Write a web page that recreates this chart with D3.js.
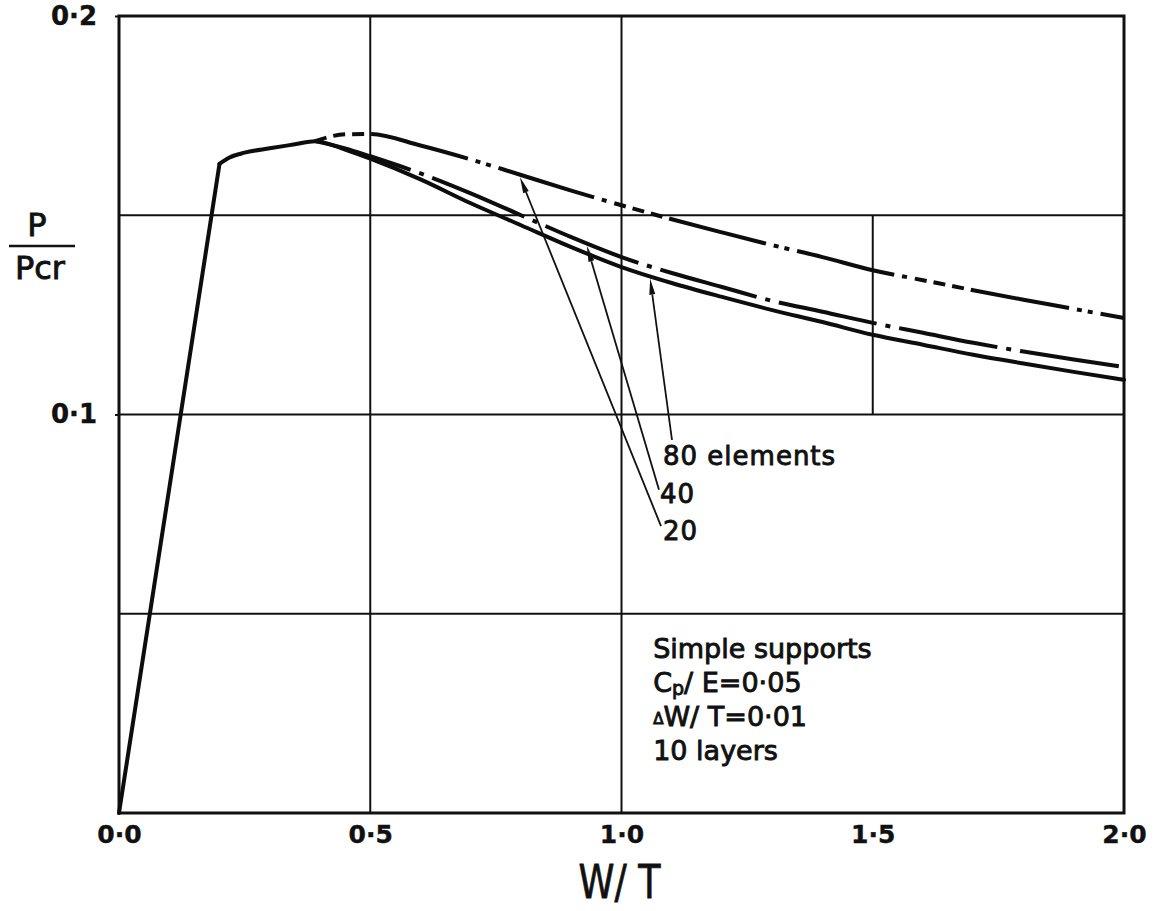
<!DOCTYPE html>
<html><head><meta charset="utf-8">
<script src="https://cdn.jsdelivr.net/npm/d3@7"></script>
<style>
html,body{margin:0;background:#fff;}
svg{display:block;}
text{font-family:"DejaVu Sans",sans-serif;fill:#111;}
</style></head><body>
<svg id="chart" width="1159" height="911"></svg>
<script>
// Axis ticks and labels
const xTicks = [0, 0.5, 1.0, 1.5, 2.0];
const xTickLabels = ["0·0", "0·5", "1·0", "1·5", "2·0"];
const yTicks = [0.1, 0.2];
const yTickLabels = ["0·1", "0·2"];

// Grid
const gridY = [0.05, 0.1, 0.15];
const gridX = [0.5, 1.0];
const partialGridX = [1.5];
const partialGridSpan = [0.1, 0.15];

// Common elastic rise and plateau up to the branching point
const riseX = [0, 0.2];
const riseY = [0, 0.1629];
const plateauX = [0.2, 0.22, 0.25, 0.3, 0.35];
const plateauY = [0.1629, 0.1645, 0.1657, 0.1668, 0.1678];

// Post-buckling branches, by number of elements
const branchX = [0.39, 0.45, 0.5, 0.6, 0.7, 0.8, 0.9, 1.0, 1.1, 1.2, 1.3, 1.4, 1.5, 1.6, 1.7, 1.8, 1.9, 2.0];
const y20 = [0.1686, 0.1703, 0.1704, 0.1675, 0.1640, 0.1601, 0.1562, 0.1525, 0.1490, 0.1457, 0.1425, 0.1395, 0.1362, 0.1337, 0.1312, 0.1288, 0.1265, 0.1242];
const y40 = [0.1686, 0.1668, 0.1648, 0.1605, 0.1555, 0.1500, 0.1445, 0.1395, 0.1355, 0.1320, 0.1285, 0.1258, 0.1230, 0.1205, 0.1180, 0.1158, 0.1138, 0.1119];
const y80 = [0.1686, 0.1665, 0.1642, 0.1590, 0.1530, 0.1475, 0.1420, 0.1370, 0.1330, 0.1295, 0.1262, 0.1232, 0.1200, 0.1175, 0.1150, 0.1128, 0.1107, 0.1087];

// Curve labels with leader arrows
const labelText = ["20", "40", "80 elements"];
const labelX = [1.0826, 1.0766, 1.0826];
const labelY = [0.0685, 0.0778, 0.0873];
const arrowTailX = [1.0786, 1.0746, 1.1005];
const arrowTailY = [0.0720, 0.0811, 0.0936];
const arrowTipX = [0.798, 0.931, 1.057];

// Parameter note
const noteLines = ["Simple supports", "Cp/ E=0·05", "ΔW/ T=0·01", "10 layers"];
const noteX = 1.063;
const noteY = [0.0389, 0.0304, 0.0218, 0.0133];

const svg = d3.select("#chart");
const x = d3.scaleLinear().domain([0, 2]).range([119, 1124]);
const y = d3.scaleLinear().domain([0, 0.2]).range([813, 16]);

// grid lines
const grid = svg.append("g").attr("stroke", "#111").attr("stroke-width", 2);
grid.selectAll("line.h").data(gridY).join("line").attr("class", "h")
  .attr("x1", x(0)).attr("x2", x(2)).attr("y1", d => y(d)).attr("y2", d => y(d));
grid.selectAll("line.v").data(gridX).join("line").attr("class", "v")
  .attr("x1", d => x(d)).attr("x2", d => x(d)).attr("y1", y(0)).attr("y2", y(0.2));
grid.selectAll("line.p").data(partialGridX).join("line").attr("class", "p")
  .attr("x1", d => x(d)).attr("x2", d => x(d))
  .attr("y1", y(partialGridSpan[0])).attr("y2", y(partialGridSpan[1]));

// frame
svg.append("rect")
  .attr("x", x(0)).attr("y", y(0.2))
  .attr("width", x(2) - x(0)).attr("height", y(0) - y(0.2))
  .attr("fill", "none").attr("stroke", "#111").attr("stroke-width", 3);

// axes
const xAxis = d3.axisBottom(x).tickValues(xTicks)
  .tickFormat((d, i) => xTickLabels[i]).tickSize(0).tickPadding(12);
const gx = svg.append("g").attr("transform", `translate(0,${y(0)})`).call(xAxis);
gx.select(".domain").remove();
gx.selectAll("text").attr("font-size", 25).attr("font-weight", "bold")
  .attr("font-family", "DejaVu Sans").attr("fill", "#111")
  .attr("stroke", "#111").attr("stroke-width", 0.4);

const yAxis = d3.axisLeft(y).tickValues(yTicks)
  .tickFormat((d, i) => yTickLabels[i]).tickSize(4).tickPadding(18);
const gy = svg.append("g").attr("transform", `translate(${x(0)},0)`).call(yAxis);
gy.select(".domain").remove();
gy.selectAll("line").attr("stroke", "#111").attr("stroke-width", 2);
gy.selectAll("text").attr("font-size", 26).attr("font-weight", "bold")
  .attr("font-family", "DejaVu Sans").attr("fill", "#111")
  .attr("stroke", "#111").attr("stroke-width", 0.4);

// axis titles
svg.append("text").attr("x", x(1.0) - 2).attr("y", 898)
  .attr("text-anchor", "middle").attr("font-size", 46)
  .attr("textLength", 82).attr("lengthAdjust", "spacingAndGlyphs")
  .attr("stroke", "#111").attr("stroke-width", 0.8)
  .text("W/ T");
const yt = svg.append("g");
yt.append("text").attr("x", 37).attr("y", 236).attr("text-anchor", "middle")
  .attr("font-size", 32).attr("stroke", "#111").attr("stroke-width", 0.9).text("P");
yt.append("line").attr("x1", 9).attr("x2", 75).attr("y1", 246).attr("y2", 246)
  .attr("stroke", "#111").attr("stroke-width", 2.5);
yt.append("text").attr("x", 40).attr("y", 279).attr("text-anchor", "middle")
  .attr("font-size", 32).attr("stroke", "#111").attr("stroke-width", 0.9).text("Pcr");

// curves
const lineLin = d3.line().x(d => x(d[0])).y(d => y(d[1]));
const lineSmooth = d3.line().x(d => x(d[0])).y(d => y(d[1])).curve(d3.curveMonotoneX);
const curves = svg.append("g").attr("fill", "none").attr("stroke", "#0d0d0d")
  .attr("stroke-width", 4).attr("stroke-linejoin", "round");

curves.append("path").attr("d", lineLin(riseX.map((v, i) => [v, riseY[i]])))
  .attr("stroke-linecap", "round");
curves.append("path")
  .attr("d", lineSmooth(plateauX.map((v, i) => [v, plateauY[i]]).concat(branchX.map((v, i) => [v, y80[i]]))))
  .attr("stroke-linecap", "round");
curves.append("path").attr("d", lineSmooth(branchX.map((v, i) => [v, y40[i]])))
  .attr("stroke-dasharray", "100 9 5 9");
curves.append("path").attr("d", lineSmooth(branchX.map((v, i) => [v, y20[i]])))
  .attr("stroke-dasharray", "12 7 12 7 12 7 100 8 5 6 5 8 100 8 5 8");

// leader arrows and labels
const branchY = [y20, y40, y80];
const arrows = svg.append("g");
labelText.forEach((t, i) => {
  const interp = d3.scaleLinear().domain(branchX).range(branchY[i]);
  const tx = x(arrowTipX[i]), ty = y(interp(arrowTipX[i])) + 2.5;
  const sx = x(arrowTailX[i]), sy = y(arrowTailY[i]);
  const dx = tx - sx, dy = ty - sy, L = Math.hypot(dx, dy);
  const ux = dx / L, uy = dy / L, nx = -uy, ny = ux;
  const bx = tx - ux * 16, by = ty - uy * 16;
  arrows.append("line").attr("x1", sx).attr("y1", sy).attr("x2", bx).attr("y2", by)
    .attr("stroke", "#111").attr("stroke-width", 1.8);
  arrows.append("path")
    .attr("d", `M${tx},${ty}L${bx + nx * 3},${by + ny * 3}L${bx - nx * 3},${by - ny * 3}Z`)
    .attr("fill", "#111");
  arrows.append("text").attr("x", x(labelX[i])).attr("y", y(labelY[i]))
    .attr("font-size", 26).attr("stroke", "#111").attr("stroke-width", 0.9)
    .attr("letter-spacing", 1).text(t);
});

// parameter note
const note = svg.append("g").attr("font-size", 27);
noteLines.forEach((t, i) => {
  const el = note.append("text").attr("x", x(noteX)).attr("y", y(noteY[i]))
    .attr("stroke", "#111").attr("stroke-width", 0.9);
  if (i === 1) {
    el.append("tspan").text("C");
    el.append("tspan").attr("font-size", 19).attr("dy", 3).text("p");
    el.append("tspan").attr("dy", -3).text("/ E=0·05");
  } else if (i === 2) {
    el.append("tspan").attr("font-size", 15).attr("dy", -2).text("Δ");
    el.append("tspan").attr("dy", 2).text("W/ T=0·01");
  } else {
    el.text(t);
  }
});
</script>
</body></html>
